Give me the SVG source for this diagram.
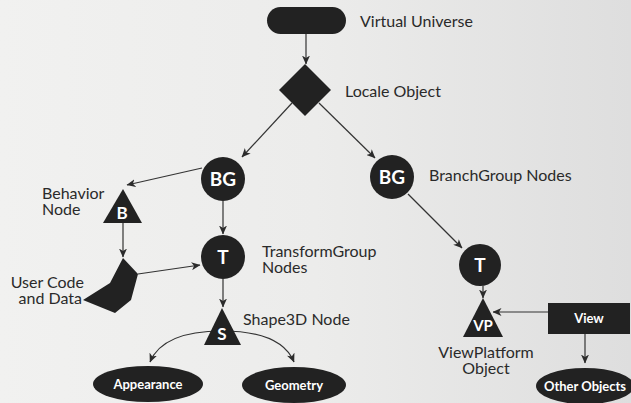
<svg xmlns="http://www.w3.org/2000/svg" width="631" height="403" viewBox="0 0 631 403">
  <defs>
    <linearGradient id="paper" x1="0" y1="0" x2="1" y2="0">
      <stop offset="0" stop-color="#f1f1f0"/>
      <stop offset="0.5" stop-color="#ececeb"/>
      <stop offset="1" stop-color="#dedede"/>
    </linearGradient>
    <marker id="arrow" viewBox="0 0 9 8" refX="8.5" refY="4" markerWidth="9" markerHeight="8" markerUnits="userSpaceOnUse" orient="auto">
      <path d="M0,0 L9,4 L0,8 L2.5,4 Z" fill="#2b2b2b"/>
    </marker>
    <style>
      .edge { fill: none; stroke: #333; stroke-width: 1.2; marker-end: url(#arrow); }
      .shape { fill: #222; }
      .label { font-family: Lato, "Open Sans", sans-serif; font-size: 16px; fill: #2a2a2a; }
      .mid { text-anchor: middle; }
      .end { text-anchor: end; }
      .tag { font-family: Lato, "Open Sans", sans-serif; font-weight: bold; font-size: 19px; fill: #fff; text-anchor: middle; }
      .small { font-family: Lato, "Open Sans", sans-serif; font-weight: bold; font-size: 13px; fill: #fff; text-anchor: middle; }
    </style>
  </defs>

  <rect width="631" height="403" fill="url(#paper)"/>

  <g id="connectors">
    <line class="edge" x1="306" y1="34" x2="306" y2="64"/>
    <line class="edge" x1="292" y1="103" x2="242" y2="157"/>
    <line class="edge" x1="319" y1="103" x2="375" y2="158"/>
    <line class="edge" x1="202" y1="168" x2="127" y2="185"/>
    <line class="edge" x1="223" y1="201" x2="223" y2="234"/>
    <line class="edge" x1="123" y1="223" x2="123" y2="257"/>
    <line class="edge" x1="138" y1="274" x2="200" y2="265"/>
    <line class="edge" x1="223" y1="279" x2="223" y2="307"/>
    <path class="edge" d="M222,331 C188,331 160,338 150,362"/>
    <path class="edge" d="M222,331 C256,331 284,338 294,362"/>
    <line class="edge" x1="408" y1="194" x2="462" y2="248"/>
    <line class="edge" x1="483" y1="286" x2="483" y2="298"/>
    <line class="edge" x1="548" y1="312" x2="493" y2="312"/>
    <line class="edge" x1="585" y1="334" x2="585" y2="363"/>
  </g>

  <g id="virtual-universe">
    <rect class="shape" x="267" y="7" width="79" height="27" rx="13.5"/>
    <text class="label" x="360" y="27">Virtual Universe</text>
  </g>

  <g id="locale">
    <polygon class="shape" points="305,64 331,90 305,116 279,90"/>
    <text class="label" x="345" y="97">Locale Object</text>
  </g>

  <g id="branch-group-left">
    <circle class="shape" cx="223" cy="179" r="22"/>
    <text class="tag" x="223" y="186">BG</text>
  </g>

  <g id="branch-group-right">
    <circle class="shape" cx="392" cy="177" r="22"/>
    <text class="tag" x="392" y="184">BG</text>
    <text class="label" x="429" y="181">BranchGroup Nodes</text>
  </g>

  <g id="behavior">
    <polygon class="shape" points="123,189 142,223 103,223"/>
    <text class="tag" x="122" y="219" style="font-size:17px">B</text>
    <text class="label" x="42" y="199">Behavior</text>
    <text class="label" x="42" y="215">Node</text>
  </g>

  <g id="user-code">
    <polygon class="shape" points="123,258 138,274 131,300 115,313 83,300 110,283"/>
    <text class="label end" x="84" y="288">User Code</text>
    <text class="label end" x="82" y="304">and Data</text>
  </g>

  <g id="transform-group-left">
    <circle class="shape" cx="223" cy="257" r="22"/>
    <text class="tag" x="223" y="264">T</text>
    <text class="label" x="262" y="257">TransformGroup</text>
    <text class="label" x="262" y="273">Nodes</text>
  </g>

  <g id="shape3d">
    <polygon class="shape" points="222,308 241,345 204,345"/>
    <text class="tag" x="222" y="340" style="font-size:17px">S</text>
    <text class="label" x="243" y="325">Shape3D Node</text>
  </g>

  <g id="appearance">
    <ellipse class="shape" cx="148" cy="384" rx="55" ry="18"/>
    <text class="small" x="148" y="389">Appearance</text>
  </g>

  <g id="geometry">
    <ellipse class="shape" cx="294" cy="385" rx="52" ry="18"/>
    <text class="small" x="294" y="390">Geometry</text>
  </g>

  <g id="transform-group-right">
    <circle class="shape" cx="480" cy="265" r="21"/>
    <text class="tag" x="480" y="272">T</text>
  </g>

  <g id="view-platform">
    <polygon class="shape" points="483,298 503,337 463,337"/>
    <text class="small" x="483" y="331" style="font-size:15px">VP</text>
    <text class="label mid" x="486" y="358">ViewPlatform</text>
    <text class="label mid" x="486" y="374">Object</text>
  </g>

  <g id="view">
    <rect class="shape" x="548" y="303" width="82" height="31"/>
    <text class="small" x="589" y="323">View</text>
  </g>

  <g id="other-objects">
    <ellipse class="shape" cx="585" cy="386" rx="49" ry="18"/>
    <text class="small" x="585" y="391">Other Objects</text>
  </g>
</svg>
